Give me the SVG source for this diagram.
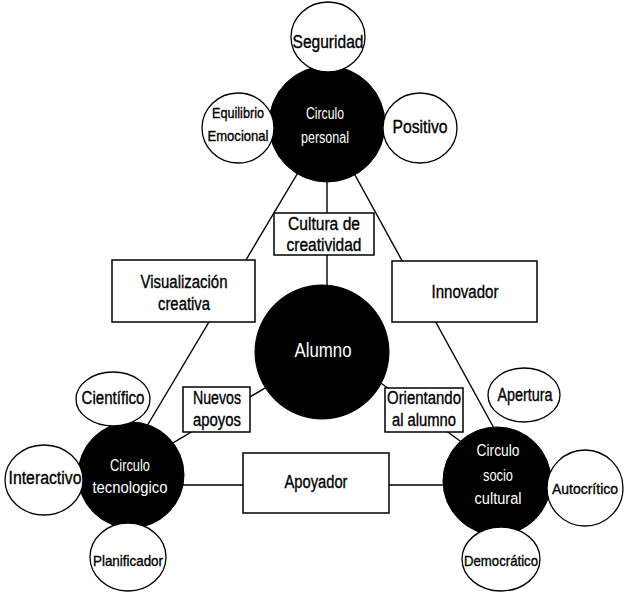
<svg xmlns="http://www.w3.org/2000/svg" width="624" height="592" viewBox="0 0 624 592">
<style>
.bg{fill:#fff}
.ln{stroke:#000;stroke-width:1.4;fill:none}
.box{fill:#fff;stroke:#000;stroke-width:1.5}
.sat{fill:#fff;stroke:#000;stroke-width:1.3}
.hub{fill:#000;stroke:#000;stroke-width:1}
.t{font-family:"Liberation Sans",Arial,sans-serif;font-size:18px;fill:#000;stroke:#000;stroke-width:0.35;text-anchor:middle;dominant-baseline:central}
.s{font-size:15px}
.w{font-family:"Liberation Sans",Arial,sans-serif;font-size:16px;fill:#fff;text-anchor:middle;dominant-baseline:central}
.wa{font-size:20px}
</style>
<rect class="bg" x="0" y="0" width="624" height="592"/>
<g id="connectors">
<line class="ln" x1="327" y1="124" x2="147" y2="426"/>
<line class="ln" x1="327" y1="124" x2="495" y2="430"/>
<line class="ln" x1="327" y1="124" x2="327" y2="352"/>
<line class="ln" x1="322" y1="354" x2="131" y2="468"/>
<line class="ln" x1="322" y1="340" x2="497" y2="468"/>
<line class="ln" x1="131" y1="485" x2="497" y2="485"/>
</g>
<g id="circulo-personal"><circle class="hub" cx="327" cy="124" r="58"/><text class="w" x="325" y="113" textLength="38" lengthAdjust="spacingAndGlyphs">Circulo</text><text class="w" x="325" y="137" textLength="48" lengthAdjust="spacingAndGlyphs">personal</text></g>
<g id="seguridad"><ellipse class="sat" cx="328" cy="37" rx="37" ry="35"/><text class="t" x="328" y="42" textLength="71" lengthAdjust="spacingAndGlyphs">Seguridad</text></g>
<g id="equilibrio"><ellipse class="sat" cx="238" cy="128" rx="36" ry="35"/><text class="t s" x="238" y="112" textLength="52" lengthAdjust="spacingAndGlyphs">Equilibrio</text><text class="t s" x="238" y="135" textLength="61" lengthAdjust="spacingAndGlyphs">Emocional</text></g>
<g id="positivo"><ellipse class="sat" cx="420" cy="128" rx="37" ry="35"/><text class="t" x="420" y="127" textLength="55" lengthAdjust="spacingAndGlyphs">Positivo</text></g>
<g id="cultura"><rect class="box" x="274" y="213" width="100" height="42"/><text class="t" x="324" y="224" textLength="72" lengthAdjust="spacingAndGlyphs">Cultura de</text><text class="t" x="324" y="245" textLength="75" lengthAdjust="spacingAndGlyphs">creatividad</text></g>
<g id="visualizacion"><rect class="box" x="112" y="260" width="143" height="62"/><text class="t" x="184" y="282" textLength="87" lengthAdjust="spacingAndGlyphs">Visualización</text><text class="t" x="184" y="304" textLength="52" lengthAdjust="spacingAndGlyphs">creativa</text></g>
<g id="innovador"><rect class="box" x="392" y="261" width="145" height="61"/><text class="t" x="465" y="292" textLength="67" lengthAdjust="spacingAndGlyphs">Innovador</text></g>
<g id="alumno"><circle class="hub" cx="322" cy="352" r="67"/><text class="w wa" x="323" y="350" textLength="57" lengthAdjust="spacingAndGlyphs">Alumno</text></g>
<g id="nuevos"><rect class="box" x="183" y="387" width="67" height="45"/><text class="t" x="217" y="398" textLength="48" lengthAdjust="spacingAndGlyphs">Nuevos</text><text class="t" x="217" y="420" textLength="48" lengthAdjust="spacingAndGlyphs">apoyos</text></g>
<g id="orientando"><rect class="box" x="385" y="388" width="78" height="44"/><text class="t" x="424" y="398" textLength="74" lengthAdjust="spacingAndGlyphs">Orientando</text><text class="t" x="424" y="420" textLength="64" lengthAdjust="spacingAndGlyphs">al alumno</text></g>
<g id="apoyador"><rect class="box" x="243" y="453" width="146" height="60"/><text class="t" x="316" y="482" textLength="63" lengthAdjust="spacingAndGlyphs">Apoyador</text></g>
<g id="circulo-tecnologico"><circle class="hub" cx="131" cy="475" r="53"/><text class="w" x="130" y="465" textLength="40" lengthAdjust="spacingAndGlyphs">Circulo</text><text class="w" x="130" y="487" textLength="75" lengthAdjust="spacingAndGlyphs">tecnologico</text></g>
<g id="cientifico"><ellipse class="sat" cx="113" cy="399" rx="37" ry="27"/><text class="t" x="113" y="398" textLength="63" lengthAdjust="spacingAndGlyphs">Científico</text></g>
<g id="interactivo"><ellipse class="sat" cx="44" cy="480" rx="39" ry="35"/><text class="t" x="45" y="478" textLength="73" lengthAdjust="spacingAndGlyphs">Interactivo</text></g>
<g id="planificador"><ellipse class="sat" cx="128" cy="557" rx="38" ry="34"/><text class="t s" x="128" y="560" textLength="70" lengthAdjust="spacingAndGlyphs">Planificador</text></g>
<g id="circulo-socio-cultural"><circle class="hub" cx="497" cy="481" r="54"/><text class="w" x="498" y="450" textLength="43" lengthAdjust="spacingAndGlyphs">Circulo</text><text class="w" x="498" y="475" textLength="30" lengthAdjust="spacingAndGlyphs">socio</text><text class="w" x="498" y="498" textLength="47" lengthAdjust="spacingAndGlyphs">cultural</text></g>
<g id="apertura"><ellipse class="sat" cx="524" cy="395" rx="36" ry="27"/><text class="t" x="525" y="395" textLength="55" lengthAdjust="spacingAndGlyphs">Apertura</text></g>
<g id="autocritico"><ellipse class="sat" cx="585" cy="488" rx="38" ry="38"/><text class="t s" x="585" y="488" textLength="66" lengthAdjust="spacingAndGlyphs">Autocrítico</text></g>
<g id="democratico"><ellipse class="sat" cx="501" cy="559" rx="39" ry="32"/><text class="t s" x="501" y="560" textLength="74" lengthAdjust="spacingAndGlyphs">Democrático</text></g>
</svg>
